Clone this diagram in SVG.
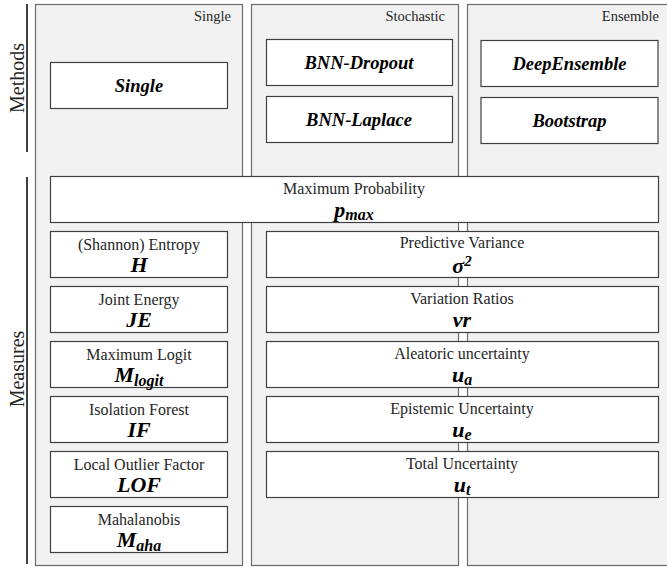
<svg xmlns="http://www.w3.org/2000/svg" width="667" height="569" viewBox="0 0 667 569">
<style>
text{font-family:'Liberation Serif','Times New Roman',serif}
.panel{fill:#f2f2f2;stroke:#6b6b6b;stroke-width:1.2}
.box{fill:#ffffff;stroke:#404040;stroke-width:1.2}
.ptitle{font-size:14.5px;fill:#262626;text-anchor:end}
.meth{font-size:18.5px;font-weight:bold;font-style:italic;fill:#000;text-anchor:middle}
.lbl{font-size:16px;fill:#262626;text-anchor:middle}
.sym{font-size:22px;font-weight:bold;font-style:italic;fill:#000;text-anchor:middle}
.sub{font-size:16px}
.side{font-size:20px;fill:#262626;text-anchor:middle}
.brk{stroke:#000;stroke-width:1.5}
</style>
<rect width="667" height="569" fill="#ffffff"/>
<g id="panels">
<g id="panel-single"><rect class="panel" x="35.5" y="4.5" width="207" height="561"/><text class="ptitle" x="231" y="21">Single</text></g>
<g id="panel-stochastic"><rect class="panel" x="251.5" y="4.5" width="207" height="561"/><text class="ptitle" x="445" y="21">Stochastic</text></g>
<g id="panel-ensemble"><rect class="panel" x="467.5" y="4.5" width="210" height="561"/><text class="ptitle" x="659" y="21">Ensemble</text></g>
</g>
<g id="connectors">
<line class="brk" x1="27" y1="4" x2="27" y2="152"/>
<line class="brk" x1="27" y1="177" x2="27" y2="564"/>
</g>
<g id="side-labels">
<text class="side" transform="translate(24,78) rotate(-90)">Methods</text>
<text class="side" transform="translate(24,369) rotate(-90)">Measures</text>
</g>
<g id="method-single"><rect class="box" x="50.5" y="62.5" width="177" height="46"/><text class="meth" x="139" y="92">Single</text></g>
<g id="method-bnn-dropout"><rect class="box" x="266.5" y="39.5" width="186" height="46"/><text class="meth" x="359" y="69">BNN-Dropout</text></g>
<g id="method-bnn-laplace"><rect class="box" x="266.5" y="96.5" width="186" height="46"/><text class="meth" x="359" y="126">BNN-Laplace</text></g>
<g id="method-deepensemble"><rect class="box" x="481" y="40.5" width="177" height="46"/><text class="meth" x="569.5" y="70">DeepEnsemble</text></g>
<g id="method-bootstrap"><rect class="box" x="481" y="97.5" width="177" height="46"/><text class="meth" x="569.5" y="127">Bootstrap</text></g>

<g id="measure-pmax"><rect class="box" x="50.5" y="176.5" width="608" height="46"/><text class="lbl" x="354" y="194">Maximum Probability</text><text class="sym" x="354" y="217">p<tspan class="sub" dy="3">max</tspan></text></g>

<g id="measure-entropy"><rect class="box" x="50.5" y="231.5" width="177" height="46"/><text class="lbl" x="139" y="250">(Shannon) Entropy</text><text class="sym" x="139" y="272">H</text></g>
<g id="measure-je"><rect class="box" x="50.5" y="286.5" width="177" height="46"/><text class="lbl" x="139" y="305">Joint Energy</text><text class="sym" x="139" y="327">JE</text></g>
<g id="measure-mlogit"><rect class="box" x="50.5" y="341.5" width="177" height="46"/><text class="lbl" x="139" y="360">Maximum Logit</text><text class="sym" x="139" y="382">M<tspan class="sub" dy="4">logit</tspan></text></g>
<g id="measure-if"><rect class="box" x="50.5" y="396.5" width="177" height="46"/><text class="lbl" x="139" y="415">Isolation Forest</text><text class="sym" x="139" y="437">IF</text></g>
<g id="measure-lof"><rect class="box" x="50.5" y="451.5" width="177" height="46"/><text class="lbl" x="139" y="470">Local Outlier Factor</text><text class="sym" x="139" y="492">LOF</text></g>
<g id="measure-maha"><rect class="box" x="50.5" y="506.5" width="177" height="46"/><text class="lbl" x="139" y="525">Mahalanobis</text><text class="sym" x="139" y="547">M<tspan class="sub" dy="4">aha</tspan></text></g>

<g id="measure-variance"><rect class="box" x="266.5" y="231.5" width="392" height="46"/><text class="lbl" x="462" y="248">Predictive Variance</text><text class="sym" x="462" y="273">σ<tspan font-size="15" dy="-7">2</tspan></text></g>
<g id="measure-vr"><rect class="box" x="266.5" y="286.5" width="392" height="46"/><text class="lbl" x="462" y="304">Variation Ratios</text><text class="sym" x="462" y="327">vr</text></g>
<g id="measure-ua"><rect class="box" x="266.5" y="341.5" width="392" height="46"/><text class="lbl" x="462" y="359">Aleatoric uncertainty</text><text class="sym" x="462" y="382">u<tspan class="sub" dy="3">a</tspan></text></g>
<g id="measure-ue"><rect class="box" x="266.5" y="396.5" width="392" height="46"/><text class="lbl" x="462" y="414">Epistemic Uncertainty</text><text class="sym" x="462" y="437">u<tspan class="sub" dy="3">e</tspan></text></g>
<g id="measure-ut"><rect class="box" x="266.5" y="451.5" width="392" height="46"/><text class="lbl" x="462" y="469">Total Uncertainty</text><text class="sym" x="462" y="492">u<tspan class="sub" dy="3">t</tspan></text></g>
</svg>
